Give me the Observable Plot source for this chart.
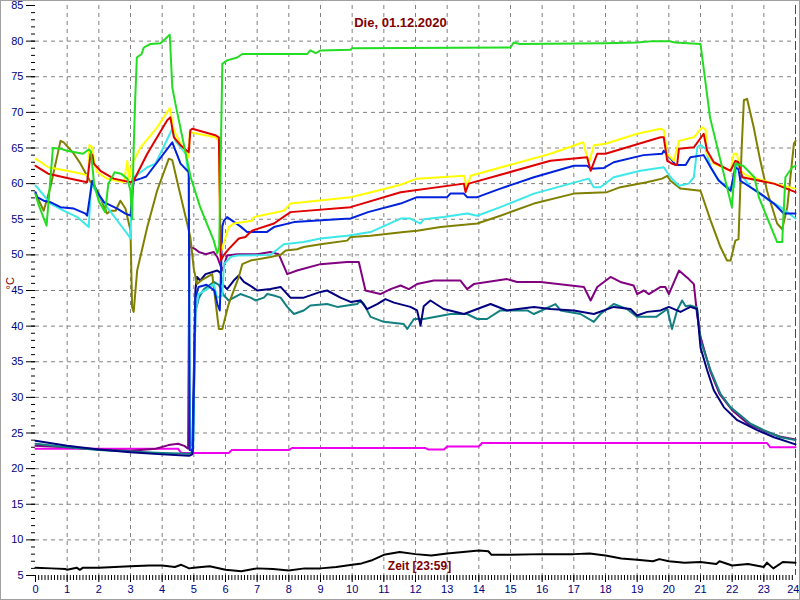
<!DOCTYPE html>
<html><head><meta charset="utf-8">
<script src="https://cdn.jsdelivr.net/npm/d3@7"></script>
<script src="https://cdn.jsdelivr.net/npm/@observablehq/plot@0.6"></script>
<style>
html,body{margin:0;padding:0;background:#fff;}
#chart svg{display:block;outline:1px solid #a0a0a0;outline-offset:-1px;}
</style></head><body><div id="chart"></div>
<script>
const title = "Die, 01.12.2020";
const xLabel = "Zeit [23:59]";
const yLabel = "°C";
const majorX = d3.range(0, 24);
const lastX = [24];
const majorY = d3.range(5, 86, 5);

const green = [[0,58.5],[0.1,57],[0.35,54.1],[0.55,65],[0.8,64.9],[1.0,64.6],[1.5,64.2],[1.68,64.8],[1.75,64.5],[1.85,60],[2.0,57.5],[2.2,56],[2.3,60],[2.5,61.6],[2.7,61.4],[2.9,60.7],[3.0,59],[3.05,55],[3.1,65],[3.15,72],[3.2,77.7],[3.35,78.2],[3.42,79.1],[3.63,79.6],[3.95,79.7],[4.24,80.9],[4.32,73.5],[4.42,71.2],[4.9,60.9],[5.2,56.7],[5.63,52],[5.74,50.2],[5.8,51],[5.9,76.8],[6.05,77.3],[6.37,77.7],[6.53,78.2],[8.58,78.2],[8.68,78.7],[8.85,78.3],[9.0,78.7],[9.95,78.8],[10.0,79.0],[15.0,79.1],[15.1,79.8],[15.3,79.6],[18.0,79.7],[19.0,79.8],[19.5,80],[20.0,80],[20.2,79.8],[21.0,79.6],[21.3,69.3],[21.99,56.7],[22.1,62.8],[22.35,62.5],[22.7,60.9],[22.85,58],[23.42,51.8],[23.58,51.8],[23.68,60.9],[23.9,62.3],[24,62.5]];

const yellow = [[0,63.5],[0.4,62.3],[1.0,61.8],[1.45,61.4],[1.66,61.1],[1.7,65.4],[1.8,65.1],[1.85,63],[1.95,61.6],[2.26,60.7],[2.79,60.2],[2.9,63.2],[2.95,60.4],[3.05,62.8],[3.32,65.1],[3.84,67.9],[4.24,70.6],[4.37,67.5],[4.58,65.6],[4.84,63.7],[4.87,67.2],[5.68,66.5],[5.79,66],[5.84,50.2],[6.1,53.9],[6.26,54.4],[6.84,54.8],[6.89,55.3],[7.84,56.2],[8.05,57.2],[9.95,58.1],[10.6,58.8],[11.5,59.8],[12.05,60.7],[13.53,61.1],[13.63,59.5],[13.74,61.1],[16.26,64.2],[17.3,65.8],[17.47,62.8],[17.63,65.4],[18.0,65.6],[19.0,67],[19.74,67.7],[19.84,67.5],[19.95,64.2],[20.16,63.2],[20.32,66],[20.79,66.5],[21.05,67.9],[21.16,67.6],[21.21,64.2],[21.42,62.8],[21.95,61.8],[22.05,64.2],[22.15,64.2],[22.26,61.8],[22.47,61.1],[23.32,60],[24,59.3]];

const red = [[0,62.5],[0.4,61.4],[1.0,60.8],[1.63,60.2],[1.74,64.2],[1.8,64],[1.84,62.8],[2.05,61.8],[2.47,60.7],[3.0,60.2],[3.1,60.4],[3.53,64.2],[4.16,68.9],[4.26,69.3],[4.37,66.5],[4.58,65.4],[4.84,64.4],[4.89,67.5],[4.95,67.7],[5.68,66.8],[5.79,66.5],[5.85,49.2],[5.95,50],[6.1,50.8],[6.42,52.3],[6.63,52.5],[6.74,53],[6.84,53.4],[7.53,54.4],[8.05,56],[9.95,56.7],[11.53,58.8],[13.53,60],[13.58,58.8],[13.68,60],[16.26,63.2],[17.42,63.7],[17.53,61.8],[17.74,64.2],[18.0,64.2],[19.74,66.5],[19.84,66.5],[19.95,63.2],[20.1,62.8],[20.26,62.6],[20.32,64.9],[20.79,65.1],[21.1,67],[21.21,64.6],[21.42,63],[21.95,61.8],[22.1,63.2],[22.2,63],[22.32,60.9],[23.32,60],[24,58.8]];

const blue = [[0,58.8],[0.05,58.1],[0.26,57.6],[0.47,57.4],[0.79,56.7],[1.21,56.5],[1.58,55.8],[1.63,55.5],[1.79,60.4],[1.95,58.8],[2.16,57.4],[2.58,56.5],[2.84,55.8],[3.0,55.5],[3.1,60.4],[3.32,60.7],[3.5,61],[4.32,65.8],[4.58,62.8],[4.84,61.6],[4.87,22.6],[4.97,22.5],[5.05,44],[5.15,45.5],[5.4,45.8],[5.65,45],[5.75,43],[5.82,42.2],[5.9,54],[5.95,54.8],[6.05,55.3],[6.47,54],[6.68,53.2],[7.3,53.2],[7.53,53.9],[8.16,54.6],[9.53,55],[9.95,55.1],[10.5,56],[11.53,57.2],[12.05,58.1],[13.0,58.1],[13.1,58.6],[13.53,58.6],[13.63,58.1],[13.95,58.1],[14.68,59.3],[15.74,60.9],[17.0,62.5],[17.42,62.5],[17.53,62.1],[17.95,62.2],[18.26,63],[19.2,64],[19.79,64.2],[19.84,64.6],[20.05,63.6],[20.21,62.6],[20.53,62.6],[20.68,63.7],[21.1,64],[21.32,62.3],[21.58,60.4],[21.95,59],[22.1,62.3],[22.2,62],[22.26,60.4],[22.89,58.6],[23.32,57.2],[23.63,55.8],[24,55.8]];

const cyan = [[0,59.7],[0.05,59.5],[0.47,57.2],[0.89,56.2],[1.32,55.3],[1.68,53.9],[1.76,60],[1.95,58.6],[2.26,56.7],[2.89,53],[3.0,52.3],[3.05,60.7],[3.53,62.3],[3.79,62.8],[4.32,67.7],[4.42,66],[4.74,64.2],[4.84,60.9],[4.88,23],[4.98,23],[5.05,42],[5.15,44.5],[5.42,45.2],[5.63,45.9],[5.74,44],[5.9,44.3],[5.95,48.7],[6.16,49.7],[6.37,49.9],[7.42,50],[7.84,51.5],[8.47,51.8],[9.0,52.3],[9.84,52.7],[10.58,53.2],[11.53,55.1],[11.84,55.1],[12.16,54.4],[12.26,55],[12.89,55.3],[13.63,55.8],[13.95,55.5],[14.68,56.7],[15.74,58.6],[16.89,60],[17.47,60.7],[17.63,59.5],[17.84,59.5],[18.26,60.9],[19.1,61.8],[19.84,62.3],[20.05,60.9],[20.32,59.7],[20.63,60],[20.79,60.9],[20.9,65.1],[21.0,65.4],[21.16,64.9],[21.32,62.3],[21.53,60.7],[21.84,59.5],[22.05,59.5],[22.16,63.2],[22.26,61.4],[22.58,59.5],[23.1,57.8],[23.53,56.7],[24,55.1]];

const olive = [[0,58.6],[0.26,56.2],[0.47,59.5],[0.79,66],[0.89,65.8],[1.21,64.2],[1.42,62.8],[1.74,60.2],[1.95,59],[2.26,55.8],[2.37,56.2],[2.53,56.2],[2.68,57.6],[2.84,56.5],[3.0,53.4],[3.05,42.7],[3.1,42],[3.21,47.8],[3.53,53.9],[3.84,59],[4.21,63.5],[4.32,63.3],[4.47,60.4],[4.79,54.4],[4.89,52.5],[5.0,48],[5.1,45.9],[5.26,46.5],[5.58,47.3],[5.79,39.6],[5.9,39.6],[6.1,43.1],[6.42,46.9],[6.53,48.7],[6.79,49.2],[7.42,49.7],[7.74,50],[7.9,50.6],[8.26,50.8],[8.47,51.1],[9.0,51.5],[9.84,52],[9.95,52.5],[10.58,52.7],[11.63,53.2],[12.05,53.4],[12.79,53.9],[13.95,54.4],[14.68,55.5],[15.74,57.2],[17.0,58.6],[18.05,58.8],[18.47,59.5],[19.3,60.2],[19.79,60.7],[19.95,61.1],[20.05,60.4],[20.37,59.3],[21.0,59],[21.32,54.8],[21.63,51.1],[21.84,49.2],[21.95,49.2],[22.1,52],[22.2,52.2],[22.3,65],[22.37,71.7],[22.47,71.9],[22.68,67.9],[22.89,63.2],[23.1,59],[23.42,54.4],[23.58,53.6],[23.74,56.7],[23.95,65.6],[24,66]];

const purple = [[0,23.2],[1,23.0],[2,22.7],[3,22.5],[3.8,22.8],[4.2,23.3],[4.5,23.5],[4.7,23.2],[4.82,22.8],[4.86,52.5],[4.9,51.1],[5.05,50.8],[5.16,50.4],[5.37,50.1],[5.63,50.4],[5.74,49.7],[5.9,47.8],[6.05,49.9],[6.37,50.1],[7.0,50.1],[7.42,50.4],[7.68,50.1],[7.95,47.3],[8.26,47.8],[9.0,48.7],[9.84,49],[10.21,49],[10.42,45],[10.89,44.5],[11.21,45.2],[11.53,45.7],[11.79,45.2],[12.05,45.9],[12.58,46.4],[13.42,46.4],[13.63,45.2],[13.84,45.9],[14.89,46.6],[15.21,46.2],[15.95,46.2],[17.32,45.5],[17.53,43.6],[17.74,45.5],[18.16,46.9],[18.47,46.2],[18.89,45.7],[19.0,44.5],[19.21,45],[19.37,44.5],[19.74,45.5],[19.89,45.5],[20.0,44.5],[20.32,47.8],[20.63,46.6],[20.79,45.9],[20.89,41.7],[21.0,38.5],[21.3,33.8],[21.6,30.5],[22.0,28.2],[22.5,26.3],[23.0,25.3],[23.5,24.5],[24,24.1]];

const navy = [[0,23.9],[1,23.2],[2,22.7],[3,22.3],[4,22],[4.85,21.8],[4.95,22],[5.05,45],[5.1,46.9],[5.2,46.4],[5.37,47.3],[5.74,47.8],[5.84,47.5],[5.9,45.9],[6.05,45.2],[6.26,46.4],[6.42,47.1],[6.58,46.2],[6.84,45.5],[7.0,45],[7.42,45.2],[7.74,45.5],[8.05,44],[8.47,44],[9.0,44.8],[9.21,45],[9.63,44],[9.95,43.4],[10.26,43.6],[10.47,42.4],[10.79,43.1],[11.05,43.8],[11.32,43.3],[11.84,42.7],[12.05,42.2],[12.16,40.1],[12.26,42.8],[12.47,43.6],[12.89,42.4],[13.53,41.7],[14.37,43.1],[14.89,42.2],[15.74,42.7],[16.26,42.4],[17,42.2],[17.63,41.7],[18.26,42.7],[18.79,42.4],[19.0,41.5],[19.32,42],[19.74,42.2],[20.0,42.7],[20.37,42],[20.68,42.7],[20.89,42.4],[21.0,37],[21.21,33.8],[21.42,31],[21.74,28.6],[22.16,26.8],[22.79,25.4],[23.32,24.4],[24,23.4]];

const teal = [[0,23.5],[1,23.0],[2,22.6],[3,22.4],[4,22.2],[4.85,22.1],[4.97,22.3],[5.05,42],[5.16,44],[5.32,45.2],[5.63,46.2],[5.79,45.8],[5.95,44.3],[6.1,43.6],[6.47,44.5],[6.79,44],[6.95,43.6],[7.21,44],[7.32,44.5],[7.53,44.3],[7.74,44],[7.95,42.7],[8.16,41.7],[8.47,42.2],[8.68,42.9],[9.21,43.1],[9.53,42.7],[10.16,43.1],[10.26,43.6],[10.37,43.1],[10.58,41.3],[11.0,40.6],[11.63,40.3],[11.74,39.6],[11.95,41],[12.26,41],[13.11,41.7],[13.63,41.7],[13.95,41],[14.26,41],[14.68,42.2],[15.53,42.2],[15.74,41.7],[16.42,43.1],[16.58,42.2],[17.21,41.7],[17.63,40.6],[17.84,41.7],[18.26,43.1],[18.68,42.4],[19.0,41.3],[19.6,41.3],[19.95,42.4],[20.1,39.6],[20.26,42.2],[20.42,43.6],[20.53,42.8],[20.68,42.9],[20.89,42.6],[21.0,38],[21.32,33.8],[21.63,30.5],[21.95,28.6],[22.26,27.5],[22.58,26.3],[23.0,25.4],[23.53,24.4],[24,24]];

const magenta = [[0,22.8],[4.5,22.8],[4.6,22.2],[6.1,22.2],[6.2,22.6],[8.0,22.6],[8.1,22.9],[12.3,22.9],[12.4,22.7],[12.9,22.7],[13.0,23.1],[14.0,23.1],[14.1,23.6],[23.1,23.6],[23.2,23.0],[24,23.0]];

const black = [[0,6.1],[0.5,6.0],[0.95,5.9],[1.0,5.8],[1.3,6.1],[1.4,5.8],[1.5,6.1],[2.0,6.1],[2.5,6.2],[3.0,6.3],[3.6,6.4],[4.0,6.4],[4.2,6.3],[4.4,6.2],[4.6,6.5],[4.75,6.2],[4.85,6.0],[5.0,6.1],[5.5,6.3],[6.0,5.8],[6.5,5.6],[7.0,6.0],[7.5,5.9],[8.0,5.7],[8.5,6.0],[9.0,6.0],[9.5,6.2],[10.0,6.5],[10.3,6.7],[10.6,7.1],[11.0,7.9],[11.5,8.3],[12.0,8.0],[12.5,7.8],[13.0,8.1],[13.5,8.3],[14.0,8.5],[14.3,8.4],[14.4,7.9],[15.0,7.9],[16.0,8.0],[17.0,8.0],[17.5,8.1],[18.0,7.8],[18.5,7.4],[19.0,7.2],[19.5,7.0],[19.7,7.3],[20.0,7.0],[20.5,6.8],[21.0,6.9],[21.5,6.6],[21.6,7.0],[22.0,6.4],[22.5,6.6],[23.0,6.2],[23.1,6.8],[23.3,6.0],[23.6,6.9],[24,6.8]];

const series = [
  {data: magenta, color: "#ee00ee"},
  {data: black, color: "#000000"},
  {data: purple, color: "#800080"},
  {data: teal, color: "#128080"},
  {data: navy, color: "#000080"},
  {data: olive, color: "#808000"},
  {data: cyan, color: "#3de8e8"},
  {data: blue, color: "#0022dd"},
  {data: yellow, color: "#ffff00"},
  {data: red, color: "#e00000"},
  {data: green, color: "#22dd22"}
];

const chart = Plot.plot({
  width: 800, height: 600,
  marginLeft: 35, marginRight: 5, marginTop: 5, marginBottom: 25,
  style: {background: "#fff", fontFamily: "'Liberation Sans', Arial, sans-serif", fontSize: "11px"},
  x: {domain: [0, 24]},
  y: {domain: [5, 85]},
  marks: [
    Plot.gridX(d3.range(1, 24), {stroke: "#808080", strokeOpacity: 1, strokeDasharray: "4,4"}),
    Plot.gridY(d3.range(10, 85, 5), {stroke: "#808080", strokeOpacity: 1, strokeDasharray: "4,4"}),
    Plot.ruleX([24], {stroke: "#008000", strokeDasharray: "9,3"}),
    Plot.axisY(majorY, {anchor: "left", tickSize: 9, tickPadding: 3, stroke: "#000", fill: "#000080", label: null}),
    Plot.axisY(d3.range(5, 86), {anchor: "left", tickSize: 4, tickFormat: () => "", stroke: "#000", label: null}),
    Plot.axisX(majorX, {anchor: "bottom", tickSize: 7, tickPadding: 3, stroke: "#000", fill: "#000080", label: null}),
    Plot.axisX(lastX, {anchor: "bottom", tickSize: 7, tickPadding: 3, stroke: "#000", fill: "#000080", label: null, textAnchor: "end", dx: 4}),
    Plot.axisX(d3.range(0, 240).map(i => i / 10), {anchor: "bottom", tickSize: 5, tickFormat: () => "", stroke: "#000", label: null}),
    ...series.map(s => Plot.line(s.data, {x: d => d[0], y: d => d[1], stroke: s.color, strokeWidth: 2})),
    Plot.text([title], {frameAnchor: "top", dx: -15, dy: 12, fill: "#800000", fontWeight: "bold", fontSize: 13}),
    Plot.text([xLabel], {frameAnchor: "bottom", dx: 4, dy: -6, fill: "#800000", fontWeight: "bold", fontSize: 12}),
    Plot.text([yLabel], {frameAnchor: "left", dx: -25, dy: -1, rotate: -90, fill: "#800000", fontSize: 11})
  ]
});
document.getElementById("chart").appendChild(chart);
</script></body></html>
